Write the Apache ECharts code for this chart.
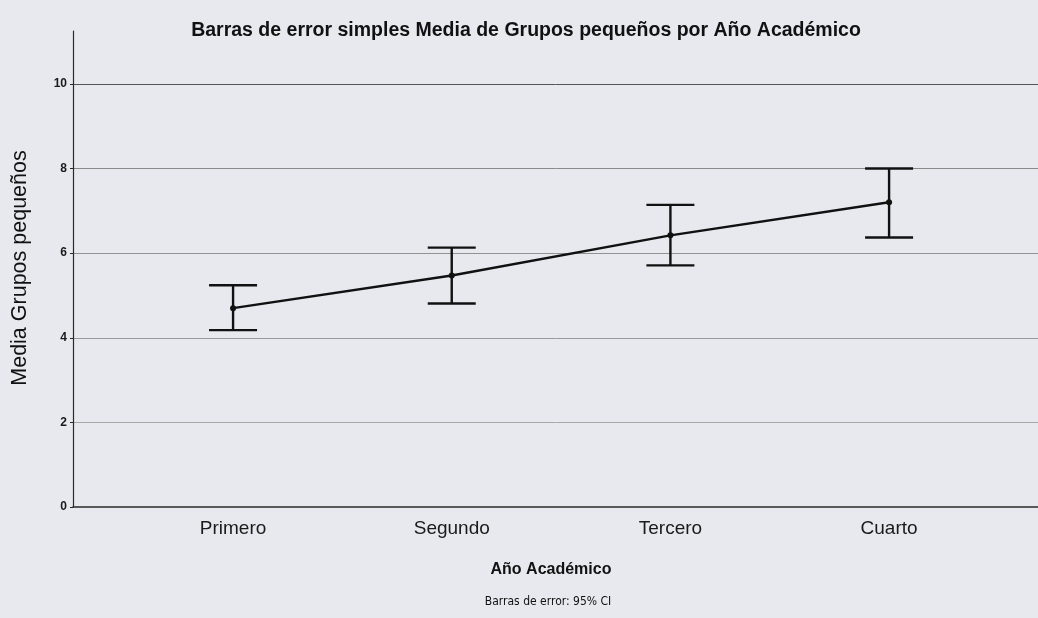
<!DOCTYPE html>
<html>
<head>
<meta charset="utf-8">
<script src="https://cdn.jsdelivr.net/npm/echarts@6/dist/echarts.min.js"></script>
<style>
  html, body { margin: 0; padding: 0; background: #e8e9ef; }
  #chart { width: 1038px; height: 618px; }
</style>
</head>
<body>
<div id="chart"></div>
<script>
// datos
const years = ["Primero", "Segundo", "Tercero", "Cuarto"];
const means = [4.70, 5.47, 6.42, 7.20];
const upper = [5.24, 6.13, 7.14, 8.00];
const lower = [4.18, 4.81, 5.71, 6.37];
const yTicks = [0, 2, 4, 6, 8, 10];

const chart = echarts.init(document.getElementById("chart"));
const font = "'Liberation Sans', Arial, sans-serif";

const option = {
  backgroundColor: "#e8e9ef",
  animation: false,
  grid: { left: 73, right: 0, top: 31, bottom: 111 },
  xAxis: {
    type: "value",
    min: 0.268,
    max: 4.681,
    axisLine: { show: true, onZero: false, lineStyle: { color: "#2a2a2a", width: 1.5 } },
    axisTick: { show: false },
    splitLine: { show: false },
    axisLabel: {
      customValues: [1, 2, 3, 4],
      formatter: (v) => years[Math.round(v) - 1] || "",
      color: "#1a1a1a",
      fontFamily: font,
      fontSize: 19,
      margin: 12,
    },
  },
  yAxis: {
    type: "value",
    min: 0,
    max: 11.25,
    interval: 2,
    axisLine: { show: true, lineStyle: { color: "#2a2a2a", width: 1.2 } },
    axisTick: { show: true, length: 3, customValues: yTicks, lineStyle: { color: "#2a2a2a" } },
    axisLabel: {
      customValues: yTicks,
      color: "#1a1a1a",
      fontFamily: font,
      fontWeight: "bold",
      fontSize: 12,
      margin: 6,
    },
    splitLine: {
      show: true,
      showMinLine: false,
      lineStyle: { color: ["#a8a8a8", "#9a9a9a", "#929292", "#8a8a8a", "#555", "#e8e9ef"], width: 1 },
    },
  },
  series: [
    {
      type: "custom",
      renderItem: function (params, api) {
        const x = api.value(0);
        const lo = api.coord([x, api.value(1)]);
        const hi = api.coord([x, api.value(2)]);
        const half = 24;
        const style = { stroke: "#111", lineWidth: 2.4 };
        return {
          type: "group",
          children: [
            { type: "line", shape: { x1: lo[0], y1: lo[1], x2: hi[0], y2: hi[1] }, style },
            { type: "line", shape: { x1: hi[0] - half, y1: hi[1], x2: hi[0] + half, y2: hi[1] }, style },
            { type: "line", shape: { x1: lo[0] - half, y1: lo[1], x2: lo[0] + half, y2: lo[1] }, style },
          ],
        };
      },
      encode: { x: 0, y: [1, 2] },
      data: years.map((y, i) => [i + 1, lower[i], upper[i]]),
      z: 2,
    },
    {
      type: "line",
      data: years.map((y, i) => [i + 1, means[i]]),
      lineStyle: { color: "#111", width: 2.5 },
      itemStyle: { color: "#111" },
      symbol: "circle",
      symbolSize: 6,
      z: 3,
    },
  ],
  graphic: [
    {
      type: "text",
      x: 526, y: 31,
      style: {
        text: "Barras de error simples Media de Grupos pequeños por Año Académico",
        fontFamily: font, fontWeight: "bold", fontSize: 19.5, fill: "#111",
        textAlign: "center", textVerticalAlign: "middle",
      },
    },
    {
      type: "text",
      x: 20, y: 268, rotation: Math.PI / 2,
      style: {
        text: "Media Grupos pequeños",
        fontFamily: font, fontSize: 21.5, fill: "#111",
        textAlign: "center", textVerticalAlign: "middle",
      },
    },
    {
      type: "text",
      x: 551, y: 570,
      style: {
        text: "Año Académico",
        fontFamily: font, fontWeight: "bold", fontSize: 16, fill: "#111",
        textAlign: "center", textVerticalAlign: "middle",
      },
    },
    {
      type: "text",
      x: 548, y: 602,
      style: {
        text: "Barras de error: 95% CI",
        fontFamily: "'Liberation Sans Narrow', 'DejaVu Sans Condensed', sans-serif",
        fontSize: 12, fill: "#111",
        textAlign: "center", textVerticalAlign: "middle",
      },
    },
  ],
};
chart.setOption(option);
</script>
</body>
</html>
